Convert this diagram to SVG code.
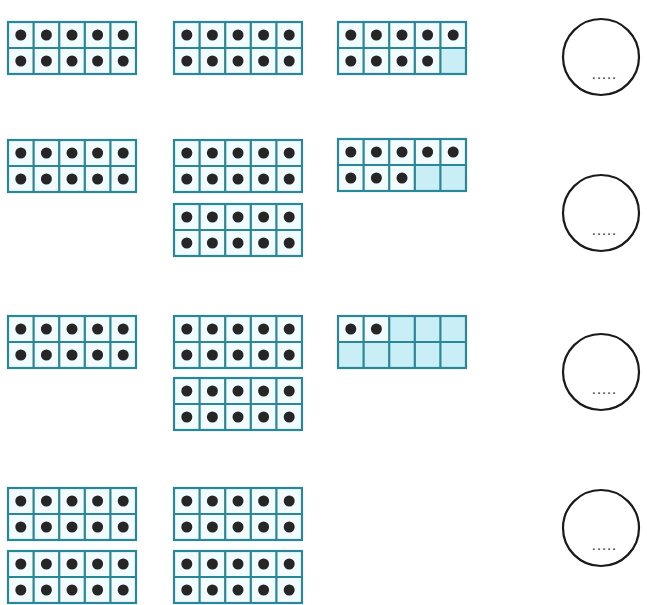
<svg xmlns="http://www.w3.org/2000/svg" xmlns:xlink="http://www.w3.org/1999/xlink" width="647" height="605" viewBox="0 0 647 605">
<style>
.bg{fill:#f2fbfd}
.empty{fill:#c9eef6}
.ln{stroke:#2a8797;stroke-width:2.2;fill:none}
.dot{fill:#262626}
.ring{fill:#fff;stroke:#1a1a1a;stroke-width:2.2}
.blank{font-family:"Liberation Sans",Arial,sans-serif;font-size:11px;font-weight:bold;fill:#444;letter-spacing:2px;text-anchor:middle}
</style>
<defs>
<g id="grid">
<rect class="ln" x="0" y="0" width="128" height="52"/>
<path class="ln" d="M25.6 0V52M51.2 0V52M76.8 0V52M102.4 0V52M0 26H128"/>
</g>
<circle id="d" class="dot" r="5.5"/>
<g id="row5">
<use xlink:href="#d" x="12.8"/><use xlink:href="#d" x="38.4"/><use xlink:href="#d" x="64"/><use xlink:href="#d" x="89.6"/><use xlink:href="#d" x="115.2"/>
</g>
<g id="full">
<rect class="bg" x="0" y="0" width="128" height="52"/>
<use xlink:href="#row5" y="13"/>
<use xlink:href="#row5" y="39"/>
<use xlink:href="#grid"/>
</g>
</defs>
<rect width="647" height="605" fill="#fff"/>

<g id="row1">
<use id="r1c1" xlink:href="#full" x="8" y="22"/>
<use id="r1c2" xlink:href="#full" x="174" y="22"/>
<g id="r1c3" transform="translate(338,22)">
<rect class="bg" x="0" y="0" width="128" height="52"/>
<rect class="empty" x="102.4" y="26" width="25.6" height="26"/>
<use xlink:href="#row5" y="13"/>
<use xlink:href="#d" x="12.8" y="39"/><use xlink:href="#d" x="38.4" y="39"/><use xlink:href="#d" x="64" y="39"/><use xlink:href="#d" x="89.6" y="39"/>
<use xlink:href="#grid"/>
</g>
<g id="circle1"><circle class="ring" cx="601" cy="57" r="38"/><text class="blank" x="605" y="79">.....</text></g>
</g>

<g id="row2">
<use id="r2c1" xlink:href="#full" x="8" y="140"/>
<use id="r2c2a" xlink:href="#full" x="174" y="140"/>
<use id="r2c2b" xlink:href="#full" x="174" y="204"/>
<g id="r2c3" transform="translate(338,139)">
<rect class="bg" x="0" y="0" width="128" height="52"/>
<rect class="empty" x="76.8" y="26" width="51.2" height="26"/>
<use xlink:href="#row5" y="13"/>
<use xlink:href="#d" x="12.8" y="39"/><use xlink:href="#d" x="38.4" y="39"/><use xlink:href="#d" x="64" y="39"/>
<use xlink:href="#grid"/>
</g>
<g id="circle2"><circle class="ring" cx="601" cy="213" r="38"/><text class="blank" x="605" y="235">.....</text></g>
</g>

<g id="row3">
<use id="r3c1" xlink:href="#full" x="8" y="316"/>
<use id="r3c2a" xlink:href="#full" x="174" y="316"/>
<use id="r3c2b" xlink:href="#full" x="174" y="378"/>
<g id="r3c3" transform="translate(338,316)">
<rect class="bg" x="0" y="0" width="51.2" height="26"/>
<rect class="empty" x="51.2" y="0" width="76.8" height="26"/>
<rect class="empty" x="0" y="26" width="128" height="26"/>
<use xlink:href="#d" x="12.8" y="13"/><use xlink:href="#d" x="38.4" y="13"/>
<use xlink:href="#grid"/>
</g>
<g id="circle3"><circle class="ring" cx="601" cy="372" r="38"/><text class="blank" x="605" y="394">.....</text></g>
</g>

<g id="row4">
<use id="r4c1a" xlink:href="#full" x="8" y="488"/>
<use id="r4c1b" xlink:href="#full" x="8" y="551"/>
<use id="r4c2a" xlink:href="#full" x="174" y="488"/>
<use id="r4c2b" xlink:href="#full" x="174" y="551"/>
<g id="circle4"><circle class="ring" cx="601" cy="528" r="38"/><text class="blank" x="605" y="550">.....</text></g>
</g>
</svg>
